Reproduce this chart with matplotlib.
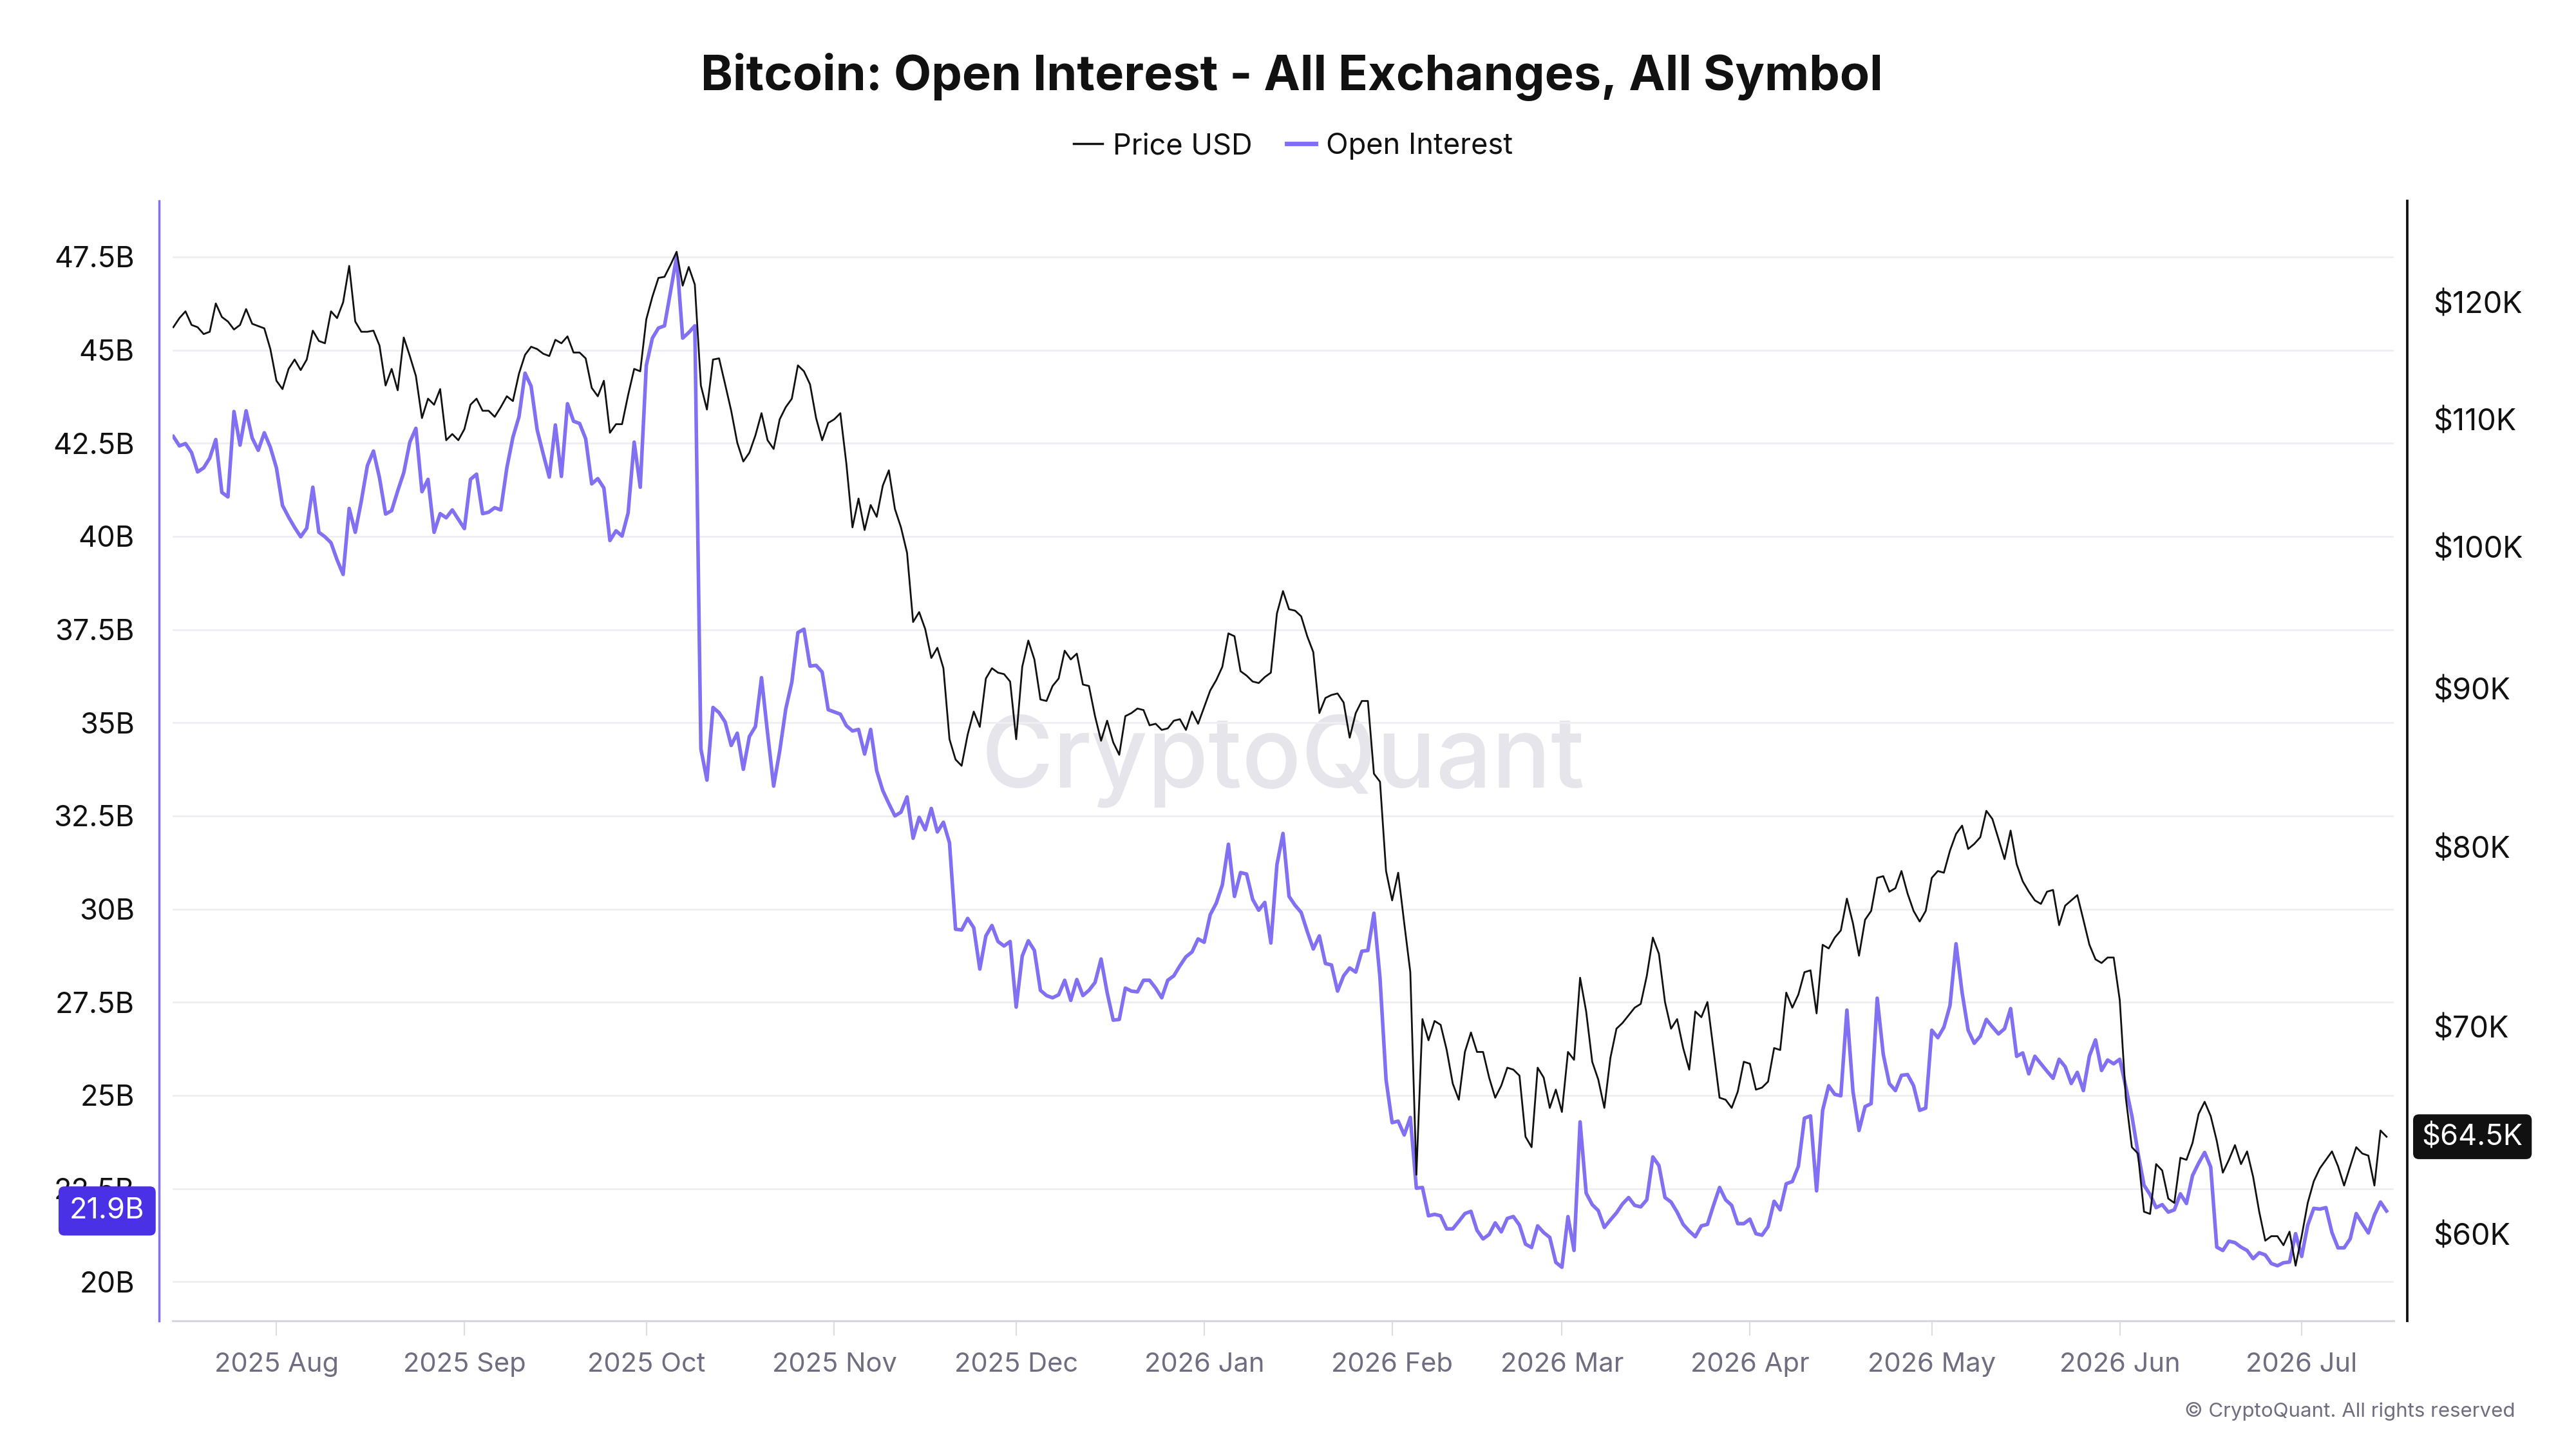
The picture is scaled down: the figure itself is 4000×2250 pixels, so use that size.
import matplotlib
matplotlib.use('Agg')
import matplotlib.pyplot as plt
import matplotlib.dates as mdates
from matplotlib.ticker import FixedLocator, FuncFormatter, NullLocator
from matplotlib.lines import Line2D
import pandas as pd

plt.rcParams['font.family'] = ['Inter', 'DejaVu Sans']

# ---------------- data ----------------
start_date = '2025-07-15'

price_usd_k = [
    117.8, 118.6, 119.2, 118.0, 117.8, 117.2, 117.4, 119.9, 118.7, 118.3,
    117.6, 118.0, 119.4, 118.1, 117.9, 117.7, 115.9, 113.2, 112.5, 114.2,
    115.0, 114.1, 115.0, 117.5, 116.6, 116.4, 119.2, 118.6, 120.0, 123.3,
    118.3, 117.4, 117.4, 117.5, 116.2, 112.8, 114.2, 112.4, 116.9, 115.3,
    113.6, 110.1, 111.7, 111.2, 112.5, 108.3, 108.8, 108.3, 109.2, 111.2,
    111.7, 110.7, 110.7, 110.2, 111.0, 111.9, 111.5, 113.8, 115.4, 116.1,
    115.9, 115.5, 115.3, 116.7, 116.4, 117.0, 115.6, 115.6, 115.1, 112.6,
    111.9, 113.2, 108.9, 109.6,
    109.6, 112.0, 114.2, 114.0, 118.5, 120.5, 122.2, 122.3, 123.4, 124.6,
    121.5, 123.2, 121.6, 112.8, 110.8, 115.0, 115.1, 112.9, 110.7, 108.1,
    106.6, 107.3, 108.7, 110.5, 108.3, 107.6, 110.0, 111.0, 111.7, 114.5,
    114.0, 112.9, 110.1, 108.3, 109.7, 110.0, 110.5, 106.4, 101.5, 103.7,
    101.3, 103.2, 102.3, 104.7, 105.9, 102.9, 101.5, 99.6, 94.6, 95.3,
    94.1, 92.1, 92.8, 91.4, 86.7, 85.4, 85.0, 87.0, 88.5, 87.5,
    90.7, 91.4, 91.1, 91.0, 90.5, 86.7, 91.5, 93.3, 92.0, 89.3,
    89.2, 90.2,
    90.7, 92.6, 92.0, 92.4, 90.3, 90.2, 88.2, 86.6, 87.9, 86.5,
    85.7, 88.2, 88.4, 88.7, 88.6, 87.6, 87.7, 87.3, 87.4, 87.9,
    88.0, 87.3, 88.5, 87.7, 88.8, 89.9, 90.6, 91.5, 93.8, 93.6,
    91.2, 90.9, 90.5, 90.4, 90.8, 91.1, 95.2, 96.8, 95.5, 95.4,
    95.0, 93.6, 92.5, 88.4, 89.4, 89.6, 89.7, 89.1, 86.8, 88.4,
    89.2, 89.2, 84.5, 84.0, 78.6, 76.9, 78.5, 75.6, 72.9, 62.7,
    70.4, 69.3, 70.3, 70.1, 68.8, 67.1, 66.3, 68.7, 69.7, 68.7,
    68.7, 67.4, 66.4,
    67.0, 67.9, 67.8, 67.5, 64.5, 64.0, 67.9, 67.4, 65.9, 66.8,
    65.7, 68.7, 68.3, 72.6, 70.8, 68.2, 67.3, 65.9, 68.4, 69.9,
    70.2, 70.6, 71.0, 71.2, 72.7, 74.8, 73.9, 71.3, 69.9, 70.4,
    68.9, 67.8, 70.8, 70.5, 71.3, 68.8, 66.4, 66.3, 65.9, 66.7,
    68.2, 68.1, 66.8, 66.9, 67.2, 68.9, 68.8, 71.8, 71.0, 71.7,
    72.9, 73.0, 70.7, 74.4, 74.2, 74.8, 75.2, 77.0, 75.6, 73.8,
    75.8, 76.3, 78.2, 78.3, 77.4, 77.6, 78.6, 77.3, 76.3, 75.7,
    76.3, 78.2,
    78.6, 78.5, 79.8, 80.8, 81.3, 79.9, 80.2, 80.6, 82.2, 81.7,
    80.5, 79.3, 81.0, 79.0, 78.0, 77.4, 76.9, 76.7, 77.4, 77.5,
    75.5, 76.6, 76.9, 77.2, 75.8, 74.4, 73.6, 73.4, 73.7, 73.7,
    71.4, 66.4, 64.0, 63.7, 61.0, 60.9, 63.2, 62.9, 61.6, 61.4,
    63.5, 63.4, 64.2, 65.6, 66.2, 65.5, 64.3, 62.8, 63.4, 64.1,
    63.2, 63.8, 62.6, 61.0, 59.7, 59.9, 59.9, 59.5, 60.1, 58.6,
    59.9, 61.4, 62.4, 63.0, 63.4, 63.8, 63.1, 62.2, 63.1, 64.0,
    63.7, 63.6, 62.2, 64.8, 64.5,
]

open_interest_b = [
    42.68, 42.43, 42.49, 42.25, 41.73, 41.84, 42.10, 42.60, 41.18, 41.06,
    43.35, 42.45, 43.37, 42.64, 42.31, 42.78, 42.39, 41.84, 40.83, 40.52,
    40.24, 39.99, 40.22, 41.32, 40.11, 39.99, 39.83, 39.37, 38.98, 40.75,
    40.11, 40.95, 41.90, 42.29, 41.57, 40.60, 40.69, 41.22, 41.71, 42.53,
    42.90, 41.20, 41.53, 40.11, 40.61, 40.50, 40.71, 40.46, 40.21, 41.53,
    41.67, 40.61, 40.65, 40.77, 40.71, 41.84, 42.66, 43.21, 44.38, 44.03,
    42.86, 42.21, 41.59, 42.99, 41.61, 43.56, 43.09, 43.03, 42.62, 41.41,
    41.55, 41.30, 39.89, 40.15,
    40.01, 40.63, 42.53, 41.32, 44.59, 45.32, 45.59, 45.65, 46.58, 47.50,
    45.32, 45.47, 45.65, 34.30, 33.46, 35.41, 35.27, 35.02, 34.39, 34.72,
    33.75, 34.63, 34.90, 36.21, 34.72, 33.30, 34.24, 35.37, 36.09, 37.42,
    37.51, 36.52, 36.54, 36.36, 35.35, 35.29, 35.23, 34.92, 34.78, 34.82,
    34.16, 34.82, 33.71, 33.18, 32.83, 32.50, 32.60, 33.01, 31.90, 32.46,
    32.13, 32.70, 32.07, 32.33, 31.78, 29.46, 29.44, 29.75, 29.50, 28.39,
    29.28, 29.56, 29.13, 29.01, 29.13, 27.37, 28.74, 29.15, 28.89, 27.82,
    27.68, 27.62,
    27.70, 28.09, 27.55, 28.11, 27.68, 27.82, 28.03, 28.66, 27.76, 27.02,
    27.04, 27.88, 27.80, 27.78, 28.09, 28.09, 27.88, 27.62, 28.09, 28.21,
    28.48, 28.72, 28.85, 29.20, 29.11, 29.85, 30.16, 30.65, 31.74, 30.34,
    30.98, 30.94, 30.26, 29.97, 30.18, 29.09, 31.19, 32.03, 30.34, 30.10,
    29.91, 29.40, 28.93, 29.28, 28.54, 28.50, 27.80, 28.21, 28.42, 28.31,
    28.87, 28.89, 29.89, 28.15, 25.42, 24.27, 24.31, 23.94, 24.41, 22.51,
    22.53, 21.77, 21.81, 21.77, 21.42, 21.42, 21.62, 21.83, 21.89, 21.38,
    21.15, 21.27, 21.58,
    21.34, 21.70, 21.75, 21.52, 21.01, 20.92, 21.50, 21.32, 21.19, 20.52,
    20.39, 21.75, 20.84, 24.29, 22.38, 22.07, 21.91, 21.46, 21.66, 21.85,
    22.09, 22.26, 22.05, 22.01, 22.20, 23.35, 23.12, 22.26, 22.14, 21.87,
    21.54, 21.36, 21.21, 21.50, 21.54, 22.05, 22.53, 22.20, 22.05, 21.56,
    21.56, 21.68, 21.29, 21.25, 21.48, 22.16, 21.93, 22.63, 22.69, 23.10,
    24.39, 24.45, 22.44, 24.60, 25.26, 25.03, 24.99, 27.29, 25.11, 24.06,
    24.70, 24.78, 27.61, 26.10, 25.32, 25.13, 25.54, 25.56, 25.26, 24.60,
    24.66, 26.75,
    26.55, 26.83, 27.41, 29.07, 27.76, 26.75, 26.40, 26.59, 27.04, 26.84,
    26.65, 26.79, 27.33, 26.05, 26.14, 25.58, 26.05, 25.85, 25.65, 25.46,
    25.97, 25.77, 25.32, 25.62, 25.13, 26.06, 26.49, 25.67, 25.95, 25.85,
    25.97, 25.23, 24.45, 23.47, 22.59, 22.34, 21.99, 22.07, 21.87, 21.93,
    22.36, 22.10, 22.85, 23.18, 23.47, 23.08, 20.93, 20.84, 21.09, 21.05,
    20.93, 20.84, 20.62, 20.78, 20.72, 20.49, 20.43, 20.51, 20.53, 21.29,
    20.68, 21.52, 21.97, 21.95, 21.99, 21.32, 20.91, 20.91, 21.15, 21.83,
    21.56, 21.31, 21.79, 22.14, 21.90,
]

oi_ticks_b = [20, 22.5, 25, 27.5, 30, 32.5, 35, 37.5, 40, 42.5, 45, 47.5]
price_ticks_k = [60, 70, 80, 90, 100, 110, 120]

title = 'Bitcoin: Open Interest - All Exchanges, All Symbol'
series_names = ['Price USD', 'Open Interest']

# ---------------- style ----------------
OI_COLOR = '#8170f2'
OI_LABEL_BG = '#4a31e6'
PRICE_COLOR = '#111111'
GRID_COLOR = '#efeff3'
XTICK_COLOR = '#6f6e80'

n = min(len(price_usd_k), len(open_interest_b))
dates = pd.date_range(start_date, periods=n, freq='D')
price = price_usd_k[:n]
oi = open_interest_b[:n]

fig = plt.figure(figsize=(16, 9), dpi=250)
fig.patch.set_facecolor('white')
ax = fig.add_axes([0.067, 0.0884, 0.8623, 0.7729])
ax2 = ax.twinx()

# watermark
ax.text(0.5, 0.5, 'CryptoQuant', transform=ax.transAxes, ha='center', va='center',
        fontsize=44, fontweight='medium', color='#e5e5eb', zorder=0)

ax.plot(dates, oi, color=OI_COLOR, lw=1.6, zorder=2, solid_joinstyle='round')
ax2.plot(dates, price, color=PRICE_COLOR, lw=0.8, zorder=3, solid_joinstyle='round')

# x axis
ax.set_xlim(dates[0] - pd.Timedelta(hours=3), dates[-1] + pd.Timedelta(hours=29))
ax.xaxis.set_major_locator(mdates.MonthLocator())
ax.xaxis.set_major_formatter(mdates.DateFormatter('%Y %b'))
ax.tick_params(axis='x', length=6.5, width=0.6, color='#dcdce4', pad=7.5,
               labelsize=12, labelcolor=XTICK_COLOR)

# left axis (open interest)
ax.set_ylim(18.95, 49.0)
ax.yaxis.set_major_locator(FixedLocator(oi_ticks_b))
ax.yaxis.set_major_formatter(FuncFormatter(lambda v, p: f'{v:g}B'))
ax.tick_params(axis='y', length=0, pad=11, labelsize=13, labelcolor='#111111')
ax.yaxis.grid(True, color=GRID_COLOR, lw=0.8)
ax.set_axisbelow(True)

# right axis (price, log)
ax2.set_yscale('log')
ax2.set_ylim(56.24, 129.4)
ax2.yaxis.set_major_locator(FixedLocator(price_ticks_k))
ax2.yaxis.set_minor_locator(NullLocator())
ax2.yaxis.set_major_formatter(FuncFormatter(lambda v, p: f'${v:g}K'))
ax2.tick_params(axis='y', which='both', length=0, pad=11.5, labelsize=13.5, labelcolor='#111111')

for a in (ax, ax2):
    for s in a.spines.values():
        s.set_visible(False)
ax.spines['left'].set_visible(True)
ax.spines['left'].set_position(('outward', 6))
ax.spines['left'].set_color(OI_COLOR)
ax.spines['left'].set_linewidth(1.0)
ax.spines['bottom'].set_visible(True)
ax.spines['bottom'].set_color('#d6d6e0')
ax.spines['bottom'].set_linewidth(0.9)
ax2.spines['right'].set_visible(True)
ax2.spines['right'].set_position(('outward', 6))
ax2.spines['right'].set_color(PRICE_COLOR)
ax2.spines['right'].set_linewidth(1.1)

# last value labels
ax.annotate(f'{oi[-1]:.1f}B', xy=(0, oi[-1]), xycoords=ax.get_yaxis_transform(),
            xytext=(-12.5, 0), textcoords='offset points', ha='right', va='center',
            fontsize=13, color='white', annotation_clip=False, zorder=10,
            bbox=dict(boxstyle='round,pad=0.38,rounding_size=0.2', fc=OI_LABEL_BG, ec='none'))
ax2.annotate(f'${price[-1]:.1f}K', xy=(1, price[-1]), xycoords=ax2.get_yaxis_transform(),
             xytext=(12.5, 0), textcoords='offset points', ha='left', va='center',
             fontsize=13, color='white', annotation_clip=False, zorder=10,
             bbox=dict(boxstyle='round,pad=0.3,rounding_size=0.2', fc=PRICE_COLOR, ec='none'))

# title & legend
fig.text(0.5015, 0.947, title, ha='center', va='center', fontsize=21.8, fontweight='bold',
         color='#111111')
handles = [Line2D([], [], color=PRICE_COLOR, lw=1.0),
           Line2D([], [], color=OI_COLOR, lw=2.0)]
fig.legend(handles, series_names, loc='center', bbox_to_anchor=(0.502, 0.899), ncol=2,
           frameon=False, fontsize=13, handlelength=1.0, handletextpad=0.35,
           columnspacing=1.2, labelcolor='#111111')

fig.text(0.9765, 0.0258, '\u00a9 CryptoQuant. All rights reserved', ha='right', va='center',
         fontsize=9, color=XTICK_COLOR)

fig.savefig('out.png', dpi=250, facecolor='white')
